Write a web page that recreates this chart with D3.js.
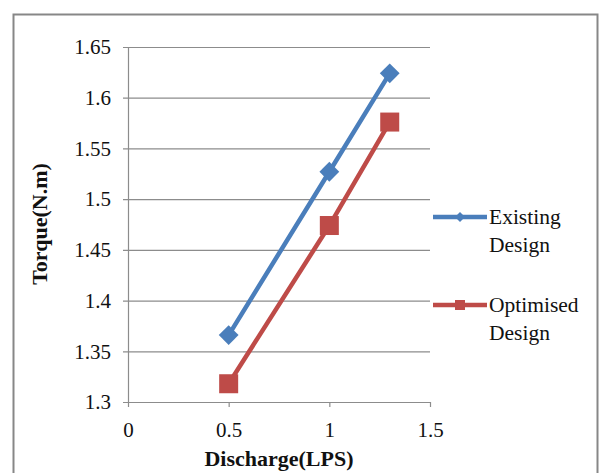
<!DOCTYPE html>
<html>
<head>
<meta charset="utf-8">
<script src="https://cdn.jsdelivr.net/npm/d3@7"></script>
<style>
  html, body { margin: 0; padding: 0; background: #fff; }
  svg { display: block; font-family: "Liberation Serif", "Times New Roman", serif; }
  svg text { font-family: "Liberation Serif", "Times New Roman", serif; }
</style>
</head>
<body>
<svg id="chart" width="605" height="473"></svg>
<script>
// Torque vs discharge for the two turbine designs
const discharge = [0.5, 1.0, 1.3];
const existingTorque = [1.366, 1.527, 1.624];
const optimisedTorque = [1.318, 1.474, 1.576];
const seriesNames = [["Existing", "Design"], ["Optimised", "Design"]];
const xTicks = [0, 0.5, 1, 1.5];
const yTicks = [1.3, 1.35, 1.4, 1.45, 1.5, 1.55, 1.6, 1.65];

const svg = d3.select("#chart");
const serif = "'Liberation Serif', 'Times New Roman', serif";
const blue = "#4A7EBB", red = "#BE4B48";

// outer chart frame (extends past the bottom edge)
svg.append("rect")
  .attr("x", 13.5).attr("y", 14.5)
  .attr("width", 584).attr("height", 480)
  .attr("fill", "#fff").attr("stroke", "#878787").attr("stroke-width", 2);

const x = d3.scaleLinear().domain([0, 1.5]).range([128, 430]);
const y = d3.scaleLinear().domain([1.3, 1.65]).range([402, 47]);

// horizontal gridlines with left tick marks
const yAxis = d3.axisLeft(y).tickValues(yTicks).tickSize(-(430 - 128)).tickSizeOuter(0)
  .tickFormat(d => String(+d.toFixed(2)));
const gy = svg.append("g").attr("transform", "translate(128,0)").call(yAxis)
  .attr("font-family", serif).attr("font-size", 21);
gy.select(".domain").attr("stroke", "#8c8c8c").attr("stroke-width", 1.2);
gy.selectAll(".tick line").attr("stroke", "#8c8c8c").attr("stroke-width", 1.2).attr("x1", -5);
gy.selectAll(".tick text").attr("x", -17).attr("fill", "#111");

const xAxis = d3.axisBottom(x).tickValues(xTicks).tickSize(5).tickSizeOuter(0)
  .tickFormat(d => String(d));
const gx = svg.append("g").attr("transform", "translate(0,402)").call(xAxis)
  .attr("font-family", serif).attr("font-size", 21);
gx.select(".domain").attr("stroke", "#8c8c8c").attr("stroke-width", 1.2);
gx.selectAll(".tick line").attr("stroke", "#8c8c8c").attr("stroke-width", 1.2);
gx.selectAll(".tick text").attr("y", 20).attr("fill", "#111");

// axis titles
svg.append("text").attr("x", 279).attr("y", 466).attr("text-anchor", "middle")
  .attr("font-weight", "bold").attr("font-size", 22).attr("fill", "#111")
  .text("Discharge(LPS)");
svg.append("text").attr("transform", "translate(47,224) rotate(-90)").attr("text-anchor", "middle")
  .attr("font-weight", "bold").attr("font-size", 22).attr("fill", "#111")
  .text("Torque(N.m)");

const line = d3.line().x(d => x(d[0])).y(d => y(d[1]));
const existing = discharge.map((d, i) => [d, existingTorque[i]]);
const optimised = discharge.map((d, i) => [d, optimisedTorque[i]]);

svg.append("path").datum(existing).attr("d", line)
  .attr("fill", "none").attr("stroke", blue).attr("stroke-width", 4.5);
svg.selectAll(".pt-existing").data(existing).join("path")
  .attr("class", "pt-existing")
  .attr("transform", d => `translate(${x(d[0])},${y(d[1])}) rotate(45)`)
  .attr("d", d3.symbol().type(d3.symbolSquare).size(196))
  .attr("fill", blue);

svg.append("path").datum(optimised).attr("d", line)
  .attr("fill", "none").attr("stroke", red).attr("stroke-width", 4.5);
svg.selectAll(".pt-optimised").data(optimised).join("rect")
  .attr("class", "pt-optimised")
  .attr("x", d => x(d[0]) - 9.5).attr("y", d => y(d[1]) - 9.5)
  .attr("width", 19).attr("height", 19)
  .attr("fill", red);

// legend
const legendY = [217, 305];
const colors = [blue, red];
seriesNames.forEach((name, i) => {
  const g = svg.append("g").attr("transform", `translate(0,${legendY[i]})`);
  g.append("line").attr("x1", 433).attr("x2", 487).attr("y1", 0).attr("y2", 0)
    .attr("stroke", colors[i]).attr("stroke-width", 4.5);
  if (i === 0) {
    g.append("path").attr("transform", "translate(460,0) rotate(45)")
      .attr("d", d3.symbol().type(d3.symbolSquare).size(50)).attr("fill", colors[i]);
  } else {
    g.append("rect").attr("x", 455).attr("y", -5).attr("width", 10).attr("height", 10)
      .attr("fill", colors[i]);
  }
  g.append("text").attr("x", 489).attr("y", 7).attr("font-size", 21.5).attr("fill", "#111").text(name[0]);
  g.append("text").attr("x", 489).attr("y", 35).attr("font-size", 21.5).attr("fill", "#111").text(name[1]);
});
</script>
</body>
</html>
